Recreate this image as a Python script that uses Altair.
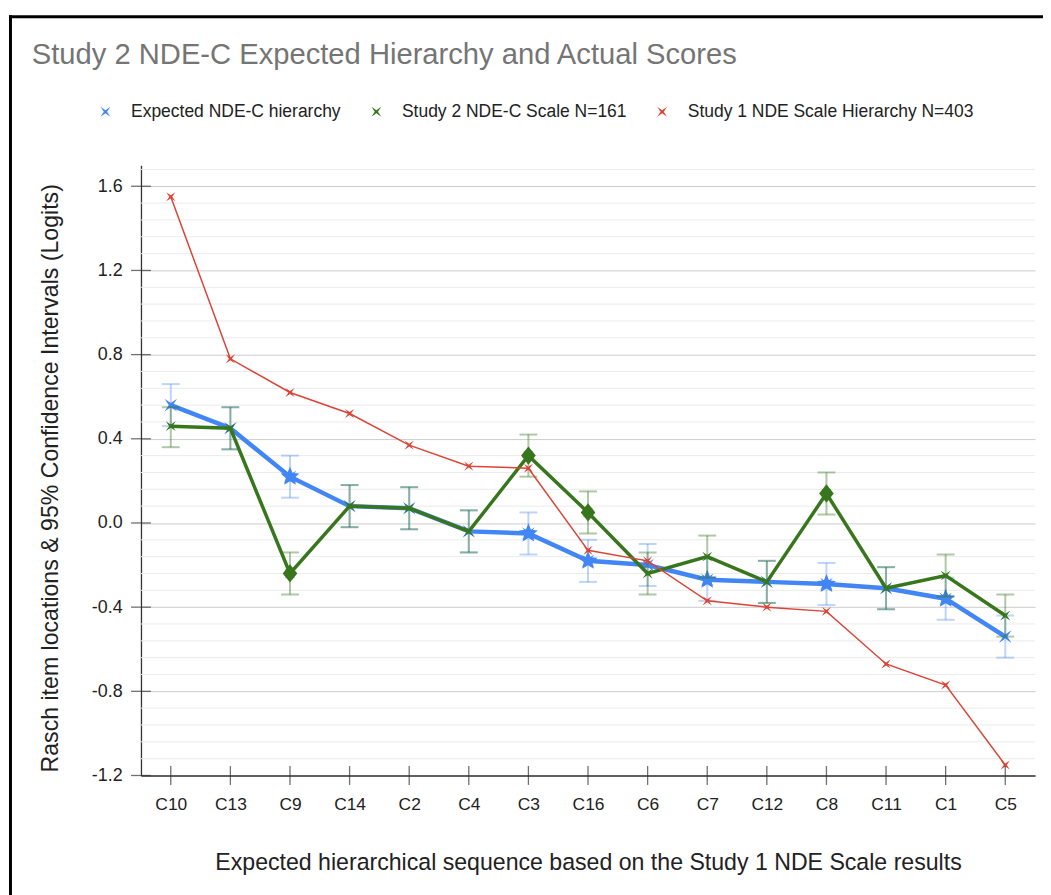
import altair as alt
import pandas as pd

# ---------------- data ----------------
items = ["C10", "C13", "C9", "C14", "C2", "C4", "C3", "C16", "C6", "C7", "C12", "C8", "C11", "C1", "C5"]

series_names = ["Expected NDE-C hierarchy", "Study 2 NDE-C Scale N=161", "Study 1 NDE Scale Hierarchy N=403"]

expected = [0.56, 0.45, 0.22, 0.08, 0.07, -0.04, -0.05, -0.18, -0.20, -0.27, -0.28, -0.29, -0.31, -0.36, -0.54]
expected_lo = [0.46, 0.35, 0.12, -0.02, -0.03, -0.14, -0.15, -0.28, -0.30, -0.37, -0.38, -0.39, -0.41, -0.46, -0.64]
expected_hi = [0.66, 0.55, 0.32, 0.18, 0.17, 0.06, 0.05, -0.08, -0.10, -0.17, -0.18, -0.19, -0.21, -0.26, -0.44]

study2 = [0.46, 0.45, -0.24, 0.08, 0.07, -0.04, 0.32, 0.05, -0.24, -0.16, -0.28, 0.14, -0.31, -0.25, -0.44]
study2_lo = [0.36, 0.35, -0.34, -0.02, -0.03, -0.14, 0.22, -0.05, -0.34, -0.26, -0.38, 0.04, -0.41, -0.35, -0.54]
study2_hi = [0.55, 0.55, -0.14, 0.18, 0.17, 0.06, 0.42, 0.15, -0.14, -0.06, -0.18, 0.24, -0.21, -0.15, -0.34]

study1 = [1.55, 0.78, 0.62, 0.52, 0.37, 0.27, 0.26, -0.13, -0.18, -0.37, -0.40, -0.42, -0.67, -0.77, -1.15]

expected_star_items = ["C9", "C3", "C16", "C7", "C8", "C1"]
study2_diamond_items = ["C9", "C3", "C16", "C8"]

y_major = [-1.2, -0.8, -0.4, 0.0, 0.4, 0.8, 1.2, 1.6]
y_minor = [-1.12, -1.04, -0.96, -0.88, -0.72, -0.64, -0.56, -0.48, -0.32, -0.24, -0.16, -0.08,
           0.08, 0.16, 0.24, 0.32, 0.48, 0.56, 0.64, 0.72, 0.88, 0.96, 1.04, 1.12,
           1.28, 1.36, 1.44, 1.52, 1.68]

title_text = ["Study 2 NDE-C Expected Hierarchy and Actual Scores"]
x_title = "Expected hierarchical sequence based on the Study 1 NDE Scale results"
y_title = "Rasch item locations & 95% Confidence Intervals (Logits)"

# ---------------- tables ----------------
def table(name, vals, lo=None, hi=None):
    d = {"idx": list(range(len(items))), "item": items, "series": [name] * len(items), "value": vals}
    if lo is not None:
        d["lo"] = lo
        d["hi"] = hi
    return pd.DataFrame(d)

df_exp = table(series_names[0], expected, expected_lo, expected_hi)
df_s2 = table(series_names[1], study2, study2_lo, study2_hi)
df_s1 = table(series_names[2], study1)
df_exp_big = df_exp[df_exp["item"].isin(expected_star_items)]
df_s2_big = df_s2[df_s2["item"].isin(study2_diamond_items)]

# ---------------- style ----------------
FONT = "Arial, Liberation Sans, sans-serif"
BLUE = "#4285f4"
GREEN = "#38761d"
RED = "#db4437"
W, H = 901, 615

XSTAR = "M-1,-1L0,-0.32L1,-1L0.32,0L1,1L0,0.32L-1,1L-0.32,0Z"
STAR5 = ("M0,-1L0.265,-0.364L0.951,-0.309L0.428,0.139L0.588,0.809L0,0.45"
         "L-0.588,0.809L-0.428,0.139L-0.951,-0.309L-0.265,-0.364Z")
DIAMOND = "M0,-1L0.8,0L0,1L-0.8,0Z"


def xenc():
    return alt.X(
        "item:N", sort=items,
        scale=alt.Scale(type="point", padding=0.5),
        axis=alt.Axis(
            title=x_title, labelAngle=0, labelFont=FONT, labelFontSize=17.5, labelColor="#222222",
            labelPadding=20, ticks=False, tickSize=0, domainColor="#333333", domainWidth=1.3,
            grid=False, titleFont=FONT, titleFontSize=23.3, titleColor="#222222",
            titleFontWeight="normal", titleY=95, titleBaseline="alphabetic",
        ),
    )


def yenc(field):
    return alt.Y(
        f"{field}:Q",
        scale=alt.Scale(domain=[-1.2, 1.7], nice=False, zero=False),
        axis=alt.Axis(
            title=y_title, values=y_major,
            labelExpr="datum.value < 0 ? '-' + format(-datum.value, '.1f') : format(datum.value, '.1f')",
            labelFont=FONT, labelFontSize=18, labelColor="#222222", labelPadding=19,
            ticks=False, tickSize=0, domainColor="#333333", domainWidth=1.3,
            grid=True, gridColor="#cccccc", gridWidth=1,
            titleFont=FONT, titleFontSize=23.3, titleColor="#222222", titleFontWeight="normal",
            titleX=-84, titleY=315, titleBaseline="alphabetic", titleAlign="center",
        ),
    )


color_scale = alt.Scale(domain=series_names, range=[BLUE, GREEN, RED])
legend = alt.Legend(
    title=None, orient="none", legendX=-44.6, legendY=-63, direction="horizontal",
    symbolType=XSTAR, symbolSize=100, symbolStrokeWidth=0,
    labelFont=FONT, labelFontSize=17.6, labelColor="#222222", labelOffset=17,
    labelLimit=500, columnPadding=27, padding=0,
)

# ---------------- layers ----------------
minor_grid = alt.Chart(pd.DataFrame({"value": y_minor})).mark_rule(
    color="#ebebeb", strokeWidth=1).encode(y=yenc("value"))


def ci_layers(df, color, opacity):
    base = alt.Chart(df)
    rule = base.mark_rule(color=color, opacity=opacity, strokeWidth=2).encode(
        x=xenc(), y=yenc("lo"), y2="hi:Q")
    cap_lo = base.mark_tick(orient="horizontal", size=18, thickness=2, color=color,
                            opacity=opacity).encode(x=xenc(), y=yenc("lo"))
    cap_hi = base.mark_tick(orient="horizontal", size=18, thickness=2, color=color,
                            opacity=opacity).encode(x=xenc(), y=yenc("hi"))
    return [rule, cap_lo, cap_hi]


def line_layer(df, color, width):
    return alt.Chart(df).mark_line(color=color, strokeWidth=width).encode(
        x=xenc(), y=yenc("value"), order="idx:Q")


def small_markers(df, size):
    return alt.Chart(df).mark_point(filled=True, shape=XSTAR, size=size, opacity=1,
                                    strokeWidth=0).encode(
        x=xenc(), y=yenc("value"),
        color=alt.Color("series:N", scale=color_scale, legend=legend))


def big_markers(df, shape, size, color):
    return alt.Chart(df).mark_point(filled=True, shape=shape, size=size, opacity=1,
                                    color=color, strokeWidth=0).encode(
        x=xenc(), y=yenc("value"))


x_ticks = alt.Chart(pd.DataFrame({"item": items})).mark_tick(
    orient="vertical", size=19, thickness=1.3, color="#333333").encode(x=xenc(), y=alt.value(H))
y_ticks = alt.Chart(pd.DataFrame({"value": y_major})).mark_tick(
    orient="horizontal", size=20, thickness=1.3, color="#333333").encode(y=yenc("value"), x=alt.value(0))

title_layer = alt.Chart(pd.DataFrame({"t": title_text})).mark_text(
    align="left", baseline="alphabetic", font=FONT, fontSize=29.4, color="#757575").encode(
    x=alt.value(-110), y=alt.value(-102), text="t:N")

frame_df = pd.DataFrame({"f": [0]})
frame_top = alt.Chart(frame_df).mark_rule(color="#000000", strokeWidth=3).encode(
    y=alt.value(-149.5), x=alt.value(-133), x2=alt.value(W + 20))
frame_left = alt.Chart(frame_df).mark_rule(color="#000000", strokeWidth=3).encode(
    x=alt.value(-131.5), y=alt.value(-151), y2=alt.value(H + 140))

layers = [minor_grid]
layers += ci_layers(df_exp, BLUE, 0.35)
layers += [line_layer(df_exp, BLUE, 4.5), small_markers(df_exp, 160), big_markers(df_exp_big, STAR5, 400, BLUE)]
layers += ci_layers(df_s2, GREEN, 0.4)
layers += [line_layer(df_s2, GREEN, 3.5), small_markers(df_s2, 100), big_markers(df_s2_big, DIAMOND, 340, GREEN)]
layers += [line_layer(df_s1, RED, 1.5), small_markers(df_s1, 85)]
layers += [x_ticks, y_ticks, title_layer, frame_top, frame_left]

chart = alt.layer(*layers).properties(
    width=W, height=H,
    autosize=alt.AutoSizeParams(type="none"),
    padding={"left": 134, "top": 155, "right": 8, "bottom": 117},
    background="white",
).configure_view(stroke=None)

chart.save("out.html", embed_options={"renderer": "svg", "actions": False})
